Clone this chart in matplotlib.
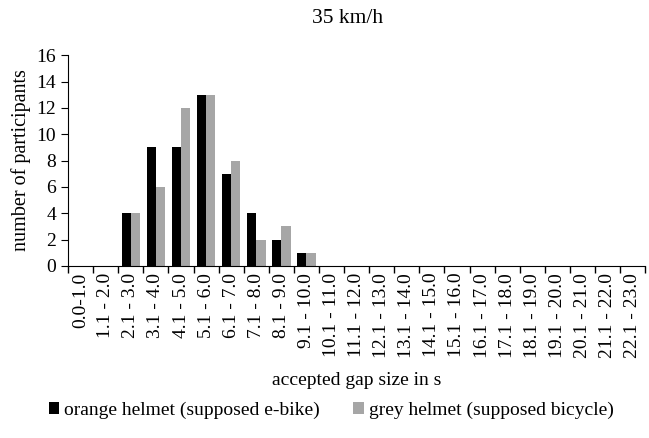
import matplotlib
matplotlib.use("Agg")
import matplotlib.pyplot as plt
import numpy as np

plt.rcParams["font.family"] = ["Liberation Serif", "DejaVu Serif"]

categories = ["0.0-1.0"] + [f"{i}.1 - {i + 1}.0" for i in range(1, 23)]
orange_helmet = [0, 0, 4, 9, 9, 13, 7, 4, 2, 1, 0, 0, 0, 0, 0, 0, 0, 0, 0, 0, 0, 0, 0]
grey_helmet = [0, 0, 4, 6, 12, 13, 8, 2, 3, 1, 0, 0, 0, 0, 0, 0, 0, 0, 0, 0, 0, 0, 0]

fig = plt.figure(figsize=(6.49, 4.38), dpi=100)
ax = fig.add_axes([0.105, 0.393, 0.889, 0.481])

x = np.arange(len(categories))
w = 0.37
ax.bar(x - w / 2, orange_helmet, w, color="#000000",
       label="orange helmet (supposed e-bike)")
ax.bar(x + w / 2, grey_helmet, w, color="#a6a6a6",
       label="grey helmet (supposed bicycle)")

ax.set_xlim(-0.5, len(categories) - 0.5)
ax.set_ylim(0, 16)
ax.set_yticks(range(0, 17, 2))
ax.set_xticks(x)
ax.set_xticklabels(categories, rotation=90, fontsize=14)
ax.set_xticks(np.arange(len(categories) + 1) - 0.5, minor=True)
ax.tick_params(axis="x", which="major", length=0, pad=5)
ax.tick_params(axis="x", which="minor", length=5, width=1, direction="out")
ax.tick_params(axis="y", labelsize=14, length=5, direction="out")

for s in ("top", "right"):
    ax.spines[s].set_visible(False)

ax.set_ylabel("number of participants", fontsize=14.5, labelpad=4)
ax.set_xlabel("accepted gap size in s", fontsize=14, labelpad=10)
fig.text(0.535, 0.958, "35 km/h", ha="center", va="center", fontsize=15.5)

fig.legend(loc="center", bbox_to_anchor=(0.51, 0.064), ncol=2, frameon=False,
           fontsize=14, handlelength=0.55, handleheight=0.55, handletextpad=0.25,
           columnspacing=1.7)

fig.savefig("out.png", dpi=100)
